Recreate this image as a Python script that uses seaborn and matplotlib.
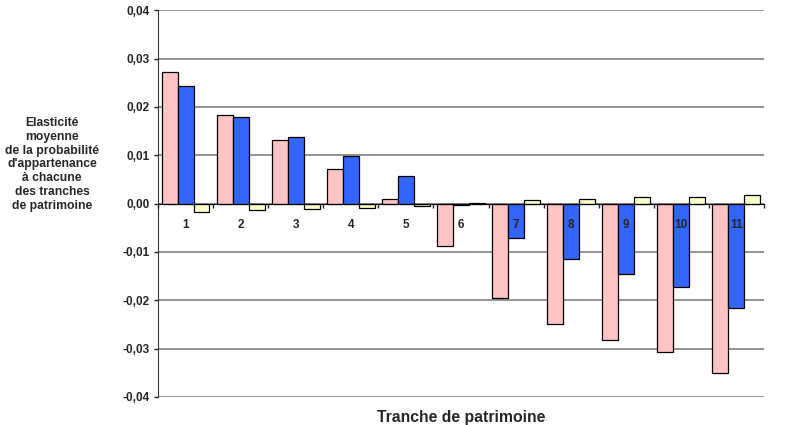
import matplotlib.pyplot as plt
import matplotlib.ticker as mticker
import numpy as np
import pandas as pd
import seaborn as sb

# tranches de patrimoine
tranches = ["1", "2", "3", "4", "5", "6", "7", "8", "9", "10", "11"]

# elasticites
serie_rose = [0.0272, 0.0184, 0.0131, 0.0072, 0.0009, -0.0087,
              -0.0196, -0.0250, -0.0283, -0.0307, -0.0350]
serie_bleue = [0.0243, 0.0179, 0.0138, 0.0098, 0.0057, -0.0003,
               -0.0071, -0.0114, -0.0146, -0.0173, -0.0217]
serie_jaune = [-0.0018, -0.0014, -0.0011, -0.0009, -0.0005, 0.0001,
               0.0007, 0.0009, 0.0013, 0.0013, 0.0018]

y_ticks = [-0.04, -0.03, -0.02, -0.01, 0.0, 0.01, 0.02, 0.03, 0.04]

if __name__ == "__main__":
    df = pd.DataFrame({
        "tranche": tranches * 3,
        "serie": ["rose"] * 11 + ["bleue"] * 11 + ["jaune"] * 11,
        "valeur": serie_rose + serie_bleue + serie_jaune,
    })

    sb.set_style("white")
    plt.rcParams["font.family"] = ["Liberation Sans", "DejaVu Sans"]

    fig = plt.figure(figsize=(7.86, 4.25), dpi=100)
    ax = fig.add_axes([0.201, 0.066, 0.771, 0.910])

    palette = {"rose": "#FFC4C4", "bleue": "#3366FF", "jaune": "#FFFFCC"}
    sb.barplot(data=df, x="tranche", y="valeur", hue="serie", order=tranches,
               hue_order=["rose", "bleue", "jaune"], palette=palette,
               width=0.87, edgecolor="black", linewidth=0.9, saturation=1,
               legend=False, ax=ax, zorder=3)

    ax.set_xlim(-0.5, len(tranches) - 0.5)
    ax.set_ylim(-0.04, 0.04)
    ax.set_yticks(y_ticks)
    ax.yaxis.set_major_formatter(
        mticker.FuncFormatter(lambda v, p: f"{v:.2f}".replace(".", ",").replace("-0,00", "0,00")))
    for lab in ax.get_yticklabels():
        lab.set_fontweight("bold")
        lab.set_fontsize(8.5)
    ax.tick_params(axis="y", length=3, width=1, direction="out", pad=3, left=True)

    ax.grid(axis="y", color="#808080", linewidth=1.2, zorder=0)
    ax.set_axisbelow(True)

    for s in ["top", "right"]:
        ax.spines[s].set_visible(False)
    ax.spines["left"].set_color("#333333")
    ax.spines["bottom"].set_position(("data", 0))
    ax.spines["bottom"].set_color("black")
    ax.spines["bottom"].set_zorder(4)

    ax.set_xticks(range(len(tranches)))
    ax.set_xticklabels(tranches, fontweight="bold", fontsize=8.5)
    ax.tick_params(axis="x", which="major", length=0, pad=11)
    ax.set_xticks(np.arange(-0.5, len(tranches), 1.0), minor=True)
    ax.tick_params(axis="x", which="minor", length=3, width=1,
                   direction="out", bottom=True)
    # labels 7-11 sit over the bars
    ax.xaxis.set_zorder(5)
    ax.set_xlabel("")
    ax.set_ylabel("")

    fig.text(0.066, 0.613,
             "Elasticité\nmoyenne\nde la probabilité\nd'appartenance\nà chacune\ndes tranches\nde patrimoine",
             ha="center", va="center", fontsize=8.7, fontweight="bold",
             linespacing=1.2)
    fig.text(0.587, 0.008, "Tranche de patrimoine", ha="center", va="baseline",
             fontsize=11.3, fontweight="bold")

    plt.savefig("out.png", dpi=100)
    plt.close()
